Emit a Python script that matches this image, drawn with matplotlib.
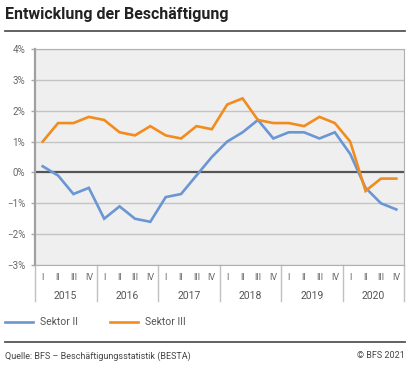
import matplotlib.pyplot as plt
import matplotlib.transforms as mtransforms
from matplotlib.lines import Line2D

# ----- Données -----
ANNEES = ["2015", "2016", "2017", "2018", "2019", "2020"]
TRIMESTRES = ["I", "II", "III", "IV"]
SEKTOR_II = [0.2, -0.1, -0.7, -0.5, -1.5, -1.1, -1.5, -1.6,
             -0.8, -0.7, -0.1, 0.5, 1.0, 1.3, 1.7, 1.1,
             1.3, 1.3, 1.1, 1.3, 0.6, -0.5, -1.0, -1.2]
SEKTOR_III = [1.0, 1.6, 1.6, 1.8, 1.7, 1.3, 1.2, 1.5,
              1.2, 1.1, 1.5, 1.4, 2.2, 2.4, 1.7, 1.6,
              1.6, 1.5, 1.8, 1.6, 1.0, -0.6, -0.2, -0.2]
Y_TICKS = [-3, -2, -1, 0, 1, 2, 3, 4]

BLEU = "#6a96d4"
ORANGE = "#f28c1e"
GRIS_TEXTE = "#666666"

plt.rcParams["font.family"] = ["Roboto", "DejaVu Sans"]

W, H = 412, 373
fig = plt.figure(figsize=(W / 100, H / 100), dpi=100)
ax = fig.add_axes([35 / W, 1 - 265 / H, (404 - 35) / W, (265 - 49) / H])

x = list(range(len(SEKTOR_II)))
ax.set_facecolor("#efefef")
for y in Y_TICKS:
    if y == 0:
        continue
    ax.axhline(y, color="#c4c4c4", linewidth=1.0, zorder=1)
ax.axhline(0, color="#555555", linewidth=1.6, zorder=2)

ax.plot(x, SEKTOR_II, color=BLEU, linewidth=1.9, zorder=3, solid_joinstyle="miter")
ax.plot(x, SEKTOR_III, color=ORANGE, linewidth=1.9, zorder=3, solid_joinstyle="miter")

ax.set_xlim(-0.5, len(x) - 0.5)
ax.set_ylim(-3, 4)
ax.set_yticks(Y_TICKS)
ax.set_yticklabels([f"{v}%".replace("-", "\u2212") for v in Y_TICKS],
                   fontsize=7, color=GRIS_TEXTE)
ax.tick_params(axis="y", length=3, width=1, color="#aaaaaa", pad=4)
ax.set_xticks([])

for side in ["top", "right", "bottom"]:
    ax.spines[side].set_color("#b0b0b0")
    ax.spines[side].set_linewidth(0.8)
ax.spines["left"].set_color("#a0a0a0")
ax.spines["left"].set_linewidth(1.6)

# Axe x : trimestres et années
trans = mtransforms.blended_transform_factory(ax.transData, ax.transAxes)
plot_h = 265 - 49
for i, annee in enumerate(ANNEES):
    for j, q in enumerate(TRIMESTRES):
        ax.text(i * 4 + j, -13 / plot_h, q, transform=trans, ha="center", va="center",
                fontsize=6.5, color=GRIS_TEXTE)
    ax.text(i * 4 + 1.5, -31 / plot_h, annee, transform=trans, ha="center", va="center",
            fontsize=7.5, color="#555555")
for k in range(len(ANNEES) + 1):
    xs = k * 4 - 0.5
    ax.add_line(Line2D([xs, xs], [0, -36 / plot_h], transform=trans, color="#c0c0c0",
                       linewidth=1.0, clip_on=False))

# Titre et filets
fig.text(5 / W, 1 - 15 / H, "Entwicklung der Beschäftigung", fontsize=11.5,
         fontweight="bold", color="#222222", ha="left", va="center")
fig.add_artist(Line2D([5 / W, 405 / W], [1 - 31 / H] * 2, color="#555555", linewidth=1.3))
fig.add_artist(Line2D([5 / W, 405 / W], [1 - 342 / H] * 2, color="#555555", linewidth=1.3))

# Légende
ly = 1 - 322 / H
fig.add_artist(Line2D([5 / W, 33 / W], [ly, ly], color=BLEU, linewidth=1.9))
fig.text(40 / W, ly, "Sektor II", fontsize=7.5, color="#555555", va="center")
fig.add_artist(Line2D([110 / W, 138 / W], [ly, ly], color=ORANGE, linewidth=1.9))
fig.text(145 / W, ly, "Sektor III", fontsize=7.5, color="#555555", va="center")

# Pied
fy = 1 - 356 / H
fig.text(5 / W, fy, "Quelle: BFS – Beschäftigungsstatistik (BESTA)", fontsize=6.5,
         color="#444444", va="center", ha="left")
fig.text(405 / W, fy, "© BFS 2021", fontsize=6.5, color="#444444", va="center", ha="right")

fig.savefig("out.png", dpi=100)
